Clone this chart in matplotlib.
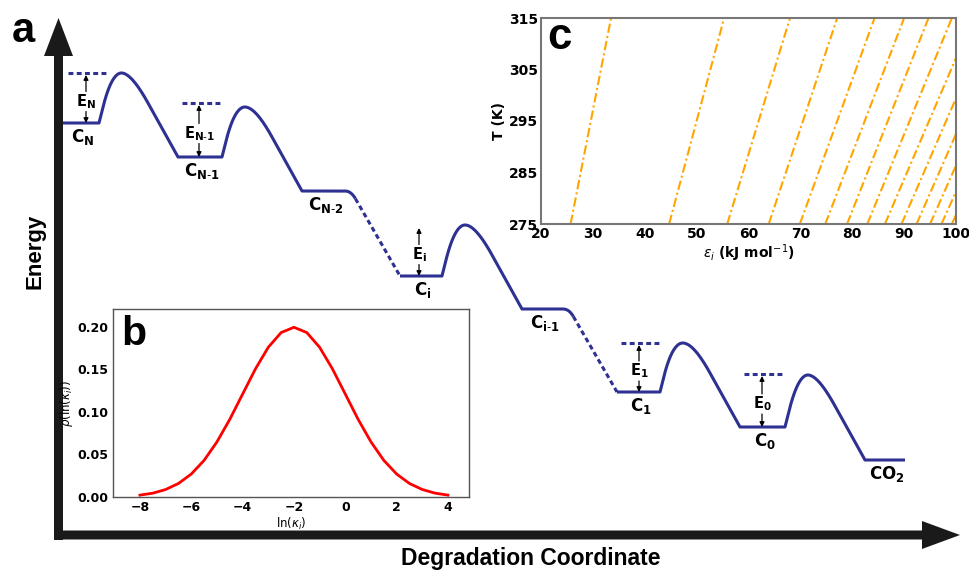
import numpy as np
import matplotlib
matplotlib.use('Agg')
import matplotlib.pyplot as plt

W, H = 969, 570

# ---------------- panel a : schematic energy landscape ----------------
# x = degradation coordinate, y = energy (schematic units)
well_labels = [r'$\mathbf{C_N}$', r'$\mathbf{C_{N\text{-}1}}$', r'$\mathbf{C_{N\text{-}2}}$',
               r'$\mathbf{C_i}$', r'$\mathbf{C_{i\text{-}1}}$', r'$\mathbf{C_1}$',
               r'$\mathbf{C_0}$', r'$\mathbf{CO_2}$']
well_start = [63, 178, 302, 400, 522, 617, 740, 865]
well_end = [99, 222, 345, 442, 563, 660, 785, 905]
well_energy = [447, 413, 379, 294, 261, 178, 143, 110]
link_type = ['barrier', 'barrier', 'hidden', 'barrier', 'hidden', 'barrier', 'barrier']
barrier_top = [497, 463, None, 345, None, 227, 195]

act_labels = [r'$\mathbf{E_N}$', r'$\mathbf{E_{N\text{-}1}}$', r'$\mathbf{E_i}$',
              r'$\mathbf{E_1}$', r'$\mathbf{E_0}$']
act_x = [86, 199, 419, 639, 762]
act_low = [447, 413, 294, 178, 143]
act_high = [496, 466, 343, 226, 195]
act_ref_from = [68, 182, None, 621, 744]
act_ref_to = [107, 220, None, 660, 783]

# ---------------- panel b : distribution of ln(kappa_i) ----------------
ln_kappa = [-8.0, -7.5, -7.0, -6.5, -6.0, -5.5, -5.0, -4.5, -4.0, -3.5, -3.0, -2.5, -2.0,
            -1.5, -1.0, -0.5, 0.0, 0.5, 1.0, 1.5, 2.0, 2.5, 3.0, 3.5, 4.0]
rho = [0.0022, 0.0045, 0.0088, 0.0159, 0.0270, 0.0431, 0.0648, 0.0913, 0.1210, 0.1506,
       0.1760, 0.1933, 0.1995, 0.1933, 0.1760, 0.1506, 0.1210, 0.0913, 0.0648, 0.0431,
       0.0270, 0.0159, 0.0088, 0.0045, 0.0022]

# ---------------- panel c : eps_i vs T ----------------
T_ends = [275, 315]
eps_at_275 = [25.7, 44.7, 55.9, 63.9, 69.9, 74.8, 79.0, 82.9, 86.3, 89.5, 92.4, 95.0, 97.2, 99.2]
eps_at_315 = [33.5, 55.3, 68.0, 77.1, 84.3, 90.0, 94.7, 99.2, 103.3, 106.7, 109.8, 112.6, 115.0, 117.2]

# ---------------- drawing ----------------
NAVY = '#2E3192'
LW = 2.2
DASH = (0, (1.6, 1.1))

fig = plt.figure(figsize=(W / 100, H / 100), dpi=100)
ax = fig.add_axes([0, 0, 1, 1])
ax.set_xlim(0, W)
ax.set_ylim(0, H)
ax.axis('off')


def bez(p0, p1, p2, n=40):
    t = np.linspace(0, 1, n)[:, None]
    p0, p1, p2 = map(np.asarray, (p0, p1, p2))
    return (1 - t) ** 2 * p0 + 2 * (1 - t) * t * p1 + t ** 2 * p2


def barrier_path(x0, e0, ep, x1, e1, rise=4.0, fall=1.8):
    s = np.array([x0, e0], float)
    e = np.array([x1, e1], float)
    c1 = np.array([x0 + (ep - e0) / rise, ep])
    c2 = np.array([x1 - (ep - e1) / fall, ep])
    m = (c1 + c2) / 2
    A = c1 + 0.7 * (s - c1)
    B = c2 + 0.35 * (e - c2)
    return np.vstack([s, bez(A, c1, m), bez(m, c2, B)[1:], e])


solid = [np.array([[well_start[0], well_energy[0]], [well_end[0], well_energy[0]]], float)]
solid_paths = []
dashed_paths = []
for k, kind in enumerate(link_type):
    x0, e0 = well_end[k], well_energy[k]
    x1, e1 = well_start[k + 1], well_energy[k + 1]
    if kind == 'barrier':
        solid.append(barrier_path(x0, e0, barrier_top[k], x1, e1))
    else:
        K = np.array([x0 + 6, e0])
        Q = K + 0.09 * (np.array([x1, e1]) - K)
        solid.append(bez([x0, e0], K, Q))
        solid_paths.append(np.vstack(solid))
        dashed_paths.append(np.array([Q, [x1, e1]]))
        solid = []
    solid.append(np.array([[x1, e1], [well_end[k + 1], e1]], float))
solid_paths.append(np.vstack(solid))

for p in solid_paths:
    ax.plot(p[:, 0], p[:, 1], color=NAVY, lw=LW, solid_joinstyle='round',
            solid_capstyle='butt')
for p in dashed_paths:
    ax.plot(p[:, 0], p[:, 1], color=NAVY, lw=LW, ls=DASH)

# well labels
for lab, xs, xe, en in zip(well_labels, well_start, well_end, well_energy):
    ax.text((xs + xe) / 2 + 2, en - 14, lab, ha='center', va='center', fontsize=12)

# activation energy markers
for lab, x, lo, hi, rf, rt in zip(act_labels, act_x, act_low, act_high, act_ref_from, act_ref_to):
    mid = (lo + hi) / 2 - 3
    if rf is not None:
        ax.plot([rf, rt], [hi + 1, hi + 1], color=NAVY, lw=LW, ls=DASH)
    ax.annotate('', xy=(x, hi - 1), xytext=(x, mid + 10),
                arrowprops=dict(arrowstyle='-|>', lw=0.9, color='black',
                                mutation_scale=7, shrinkA=0, shrinkB=0))
    ax.annotate('', xy=(x, lo), xytext=(x, mid - 10),
                arrowprops=dict(arrowstyle='-|>', lw=0.9, color='black',
                                mutation_scale=7, shrinkA=0, shrinkB=0))
    ax.text(x, mid, lab, ha='center', va='center', fontsize=10.5)

# main axes arrows
ax.arrow(58.5, 30, 0, 552 - 30, width=9, head_width=29, head_length=38,
         length_includes_head=True, fc='#1a1a1a', ec='none', zorder=5)
ax.arrow(54, 35, 960 - 54, 0, width=9, head_width=28, head_length=38,
         length_includes_head=True, fc='#1a1a1a', ec='none', zorder=5)

ax.text(35, H - 251, 'Energy', rotation=90, ha='center', va='center',
        fontsize=16, fontweight='bold', family='Liberation Sans')
ax.text(531, H - 559, 'Degradation Coordinate', ha='center', va='center',
        fontsize=16.5, fontweight='bold', family='Liberation Sans')

# ---------------- inset b ----------------
axb = fig.add_axes([113 / W, 1 - 497 / H, 356 / W, 188 / H])
axb.plot(ln_kappa, rho, color='red', lw=2)
axb.set_xlim(-9.05, 4.82)
axb.set_ylim(0, 0.221)
axb.set_xticks([-8, -6, -4, -2, 0, 2, 4])
axb.set_yticks([0.0, 0.05, 0.10, 0.15, 0.20])
axb.set_yticklabels(['%.2f' % v for v in [0.0, 0.05, 0.10, 0.15, 0.20]])
axb.tick_params(length=0, pad=3, labelsize=9)
for t in axb.get_xticklabels() + axb.get_yticklabels():
    t.set_fontweight('bold')
axb.set_ylabel(r'$\rho(\ln(\kappa_i))$', fontsize=8.5, labelpad=2)
axb.set_xlabel(r'$\ln(\kappa_i)$', fontsize=8.5, labelpad=1)
for s in axb.spines.values():
    s.set_color('#555555')
    s.set_linewidth(1.0)

# ---------------- inset c ----------------
axc = fig.add_axes([541 / W, 1 - 224 / H, 415 / W, 206 / H])
for e0, e1 in zip(eps_at_275, eps_at_315):
    axc.plot([e0, e1], T_ends, color='#FFA500', lw=1.5, ls=(0, (4.5, 1.5, 1, 1.5)))
axc.set_xlim(20, 100)
axc.set_ylim(275, 315)
axc.set_xticks(np.arange(20, 101, 10))
axc.set_yticks([275, 285, 295, 305, 315])
axc.tick_params(length=0, pad=2, labelsize=10)
for t in axc.get_xticklabels() + axc.get_yticklabels():
    t.set_fontweight('bold')
axc.set_ylabel('T (K)', fontsize=10, fontweight='bold', labelpad=2)
axc.set_xlabel(r'$\varepsilon_i$ (kJ mol$^{-1}$)', fontsize=10, fontweight='bold', labelpad=1)
for s in axc.spines.values():
    s.set_color('#777777')
    s.set_linewidth(1.5)

# panel letters
fig.text(12 / W, 1 - 42 / H, 'a', fontsize=30, fontweight='bold', family='Liberation Sans',
         ha='left', va='baseline', zorder=10)
fig.text(121 / W, 1 - 345 / H, 'b', fontsize=29.5, fontweight='bold', family='Liberation Sans',
         ha='left', va='baseline', zorder=10)
fig.text(547 / W, 1 - 49 / H, 'c', fontsize=31.5, fontweight='bold', family='Liberation Sans',
         ha='left', va='baseline', zorder=10)

fig.savefig('out.png', dpi=100)
